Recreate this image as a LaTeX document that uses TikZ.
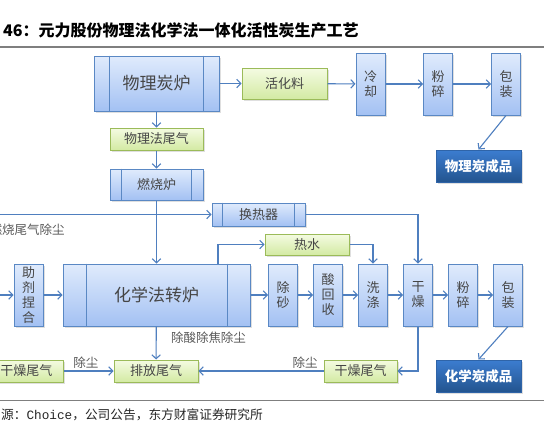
\documentclass[tikz,border=0pt]{standalone}
\usepackage{fontspec}
\setmainfont{Noto Sans CJK SC}
\newfontfamily\footmono{Liberation Mono}
\usetikzlibrary{arrows.meta,shadows}
\definecolor{lineblue}{HTML}{4F7FBF}
\definecolor{boxborder}{HTML}{5A88C4}
\definecolor{bluetop}{HTML}{E0EBFC}
\definecolor{bluebot}{HTML}{A3C1F3}
\definecolor{greenborder}{HTML}{9BBB59}
\definecolor{greentop}{HTML}{F4FBE2}
\definecolor{greenbot}{HTML}{D3EAA3}
\definecolor{darktop}{HTML}{3C7DD0}
\definecolor{darkbot}{HTML}{23548F}
\definecolor{darkborder}{HTML}{2F64A8}
\definecolor{boxtext}{HTML}{454545}
\definecolor{labeltext}{HTML}{5A5A5A}
\definecolor{rulegray}{HTML}{7F7F7F}
\newcommand\procbars[2]{%
  \draw[draw=boxborder, line width=1pt] ([xshift=#2]#1.north west) -- ([xshift=#2]#1.south west);
  \draw[draw=boxborder, line width=1pt] ([xshift=-#2]#1.north east) -- ([xshift=-#2]#1.south east);}
\begin{document}
\begin{tikzpicture}[x=1pt,y=-1pt,
  base/.style={line width=1pt, inner sep=0pt, align=center,
    drop shadow={shadow xshift=1.5pt, shadow yshift=-1.5pt, opacity=0.25}},
  bluebox/.style={base, draw=boxborder, top color=bluetop, bottom color=bluebot,
    text=boxtext, font=\fontsize{13}{15}\selectfont},
  greenbox/.style={base, draw=greenborder, top color=greentop, bottom color=greenbot,
    text=boxtext, font=\fontsize{13}{15}\selectfont},
  darkbox/.style={base, draw=darkborder, top color=darktop, bottom color=darkbot,
    text=white, font=\bfseries\fontsize{13.5}{15}\selectfont,
    minimum width=85pt, minimum height=32pt},
  tallbox/.style={bluebox, minimum width=29pt, minimum height=62pt},
  conn/.style={draw=lineblue, line width=1.1pt, -{Straight Barb[length=4pt,width=8.5pt]}},
  plain/.style={draw=lineblue, line width=1.1pt},
  lbl/.style={text=labeltext, font=\fontsize{12.5}{14}\selectfont, inner sep=0pt}
]
\clip (0,0) rectangle (550,429);
\fill[white] (0,0) rectangle (550,429);

% title and rules
\node[anchor=base west, inner sep=0pt, font=\bfseries\fontsize{16}{17}\selectfont] (title) at (3,36) {46：元力股份物理法化学法一体化活性炭生产工艺};
\draw[rulegray, line width=1.5pt] (0,47) -- (544,47);
\draw[rulegray, line width=1.5pt] (0,400.5) -- (544,400.5);
\node[anchor=base west, inner sep=0pt, text=black!85, font=\fontsize{12.7}{14}\selectfont] (src) at (1,419) {源：{\footmono Choice}，公司公告，东方财富证券研究所};

% physical line
\node[bluebox, minimum width=125pt, minimum height=55pt, font=\fontsize{17}{18}\selectfont] (wl) at (156.5,83.5) {物理炭炉};
\procbars{wl}{16pt}
\node[greenbox, minimum width=85pt, minimum height=31pt] (hhl) at (284.5,83.5) {活化料};
\node[tallbox] (lq) at (370.5,84) {冷\\却};
\node[tallbox] (fs1) at (438,84) {粉\\碎};
\node[tallbox] (bz1) at (506,84) {包\\装};
\node[darkbox] (wlcp) at (478.5,166) {物理炭成品};
\node[greenbox, minimum width=93pt, minimum height=22pt] (wlwq) at (156.5,139) {物理法尾气};
\node[bluebox, minimum width=93pt, minimum height=31pt] (rsl) at (156.5,184.5) {燃烧炉};
\procbars{rsl}{12pt}
\node[bluebox, minimum width=93pt, minimum height=23pt] (hrq) at (258.5,214.5) {换热器};
\procbars{hrq}{11pt}

% chemical line
\node[greenbox, minimum width=84pt, minimum height=21pt] (rs) at (307,244.5) {热水};
\node[bluebox, minimum width=187pt, minimum height=62pt, font=\fontsize{17}{18}\selectfont] (hxl) at (156.5,295) {化学法转炉};
\procbars{hxl}{23.5pt}
\node[tallbox] (zj) at (28.5,295) {助\\剂\\捏\\合};
\node[tallbox] (cs) at (283,295) {除\\砂};
\node[tallbox] (shs) at (328,295) {酸\\回\\收};
\node[tallbox] (xd) at (373,295) {洗\\涤};
\node[tallbox] (gz) at (418,295) {干\\燥};
\node[tallbox] (fs2) at (463,295) {粉\\碎};
\node[tallbox] (bz2) at (508,295) {包\\装};
\node[darkbox] (hxcp) at (478.5,376) {化学炭成品};
\node[greenbox, minimum width=73pt, minimum height=22pt] (gzR) at (360.5,371) {干燥尾气};
\node[greenbox, minimum width=84pt, minimum height=22pt] (pf) at (156,371) {排放尾气};
\node[greenbox, minimum width=73pt, minimum height=22pt] (gzL) at (26.5,371) {干燥尾气};

\coordinate (inA) at (0,214.5);
\coordinate (inB) at (0,295);

% connectors - physical
\draw[conn] (wl) -- (hhl);
\draw[conn] (hhl) -- (lq);
\draw[conn] (lq) -- (fs1);
\draw[conn] (fs1) -- (bz1);
\draw[conn] (bz1.south) -- (wlcp.north);
\draw[conn] (wl) -- (wlwq);
\draw[conn] (wlwq) -- (rsl);
\draw[conn] (rsl) -- (hxl);
\draw[conn] (inA) -- (hrq);
\draw[conn] (hrq.east) -| (gz.north);

% connectors - chemical
\draw[conn] (inB) -- (zj);
\draw[conn] (zj) -- (hxl);
\draw[conn] (hxl) -- (cs);
\draw[conn] (cs) -- (shs);
\draw[conn] (shs) -- (xd);
\draw[conn] (xd) -- (gz);
\draw[conn] (gz) -- (fs2);
\draw[conn] (fs2) -- (bz2);
\draw[conn] (bz2.south) -- (hxcp.north);
\draw[conn] ([xshift=61.5pt]hxl.north) |- (rs.west);
\draw[conn] (rs.east) -| (xd.north);
\draw[conn] (gz.south) |- (gzR.east);
\draw[conn] (gzR) -- (pf);
\draw[conn] (hxl) -- (pf);
\draw[conn] (gzL) -- (pf);

% labels
\node[lbl, anchor=west] (lblA) at (-10.5,230) {燃烧尾气除尘};
\node[lbl] (lblB) at (208.5,338) {除酸除焦除尘};
\node[lbl] (lblC) at (305,363) {除尘};
\node[lbl] (lblD) at (86,363) {除尘};
\end{tikzpicture}
\end{document}
